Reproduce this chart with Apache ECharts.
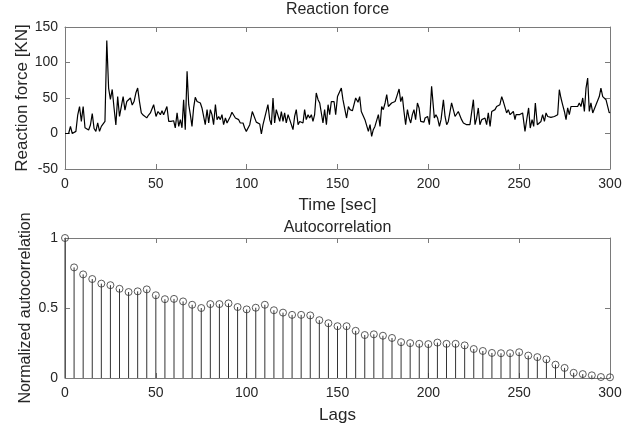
<!DOCTYPE html>
<html><head><meta charset="utf-8">
<script src="https://cdn.jsdelivr.net/npm/echarts@6/dist/echarts.min.js"></script>
<style>html,body{margin:0;padding:0;background:#fff}#c{width:633px;height:425px}</style>
</head><body><div id="c"></div>
<script>
// ---- Reaction force time series (sec, KN) ----
const forceTime = [
 0,1,2,3,4,5,6,7,8,9,10,11,12,13,14,15,16,17,18,19,20,21,22,23,24,25,26,27,28,29,30,31,32,33,34,35,36,37,38,39,40,41,42,43,44,45,46,47,
 48.8,50.1,51.2,52.5,53.4,54.3,55.2,56.1,57.1,58.3,59.8,60.7,61.7,62.6,63.5,64.4,65.3,66.2,67.2,68.1,69,69.9,70.8,71.7,72.7,73.6,74.5,75.4,76.3,77.2,78.2,79.1,80,80.9,81.8,82.8,83.7,84.6,85.5,86.4,87.3,88.3,89.2,90.1,91,91.9,92.8,93.8,94.7,95.6,96.5,
 98.0,98.9,99.8,100.7,101.7,103.1,104.0,105.3,106.2,107.2,108.1,109.0,109.9,111.7,112.7,113.6,114.5,115.4,116.3,117.2,118.2,119.1,120.0,120.9,121.8,122.8,123.7,124.6,125.5,126.4,127.3,128.3,129.2,130.1,131.0,131.9,132.8,133.8,134.7,135.6,136.5,137.4,138.3,139.3,140.2,141.1,142.0,142.9,143.9,144.8,145.7,146.6,
 148.1,149.0,150.0,150.8,152.1,153.0,154.1,155.0,156.0,156.9,158.2,159.1,160.0,161.3,162.2,163.1,164.2,165.1,166.1,167.0,167.9,168.8,169.7,170.6,171.6,172.5,173.4,174.3,175.2,176.2,177.1,178.0,178.9,179.8,180.7,181.7,182.6,183.9,184.8,185.7,186.6,187.5,188.5,189.4,190.3,191.2,192.1,193.0,194.0,194.9,195.8,197.6,
 198.2,199.6,200.6,201.8,203.3,204.2,205.1,206.1,207.0,208.3,209.2,210.1,211.0,211.9,212.8,213.8,214.7,215.6,216.5,217.4,218.3,219.3,220.2,221.1,222.0,222.9,223.9,224.8,225.7,226.6,227.5,228.4,229.4,230.3,231.2,232.1,233.0,234.0,234.9,235.8,236.7,237.6,238.5,239.4,240.4,241.3,242.2,243.1,244.0,245.0,245.9,246.8,247.7,
 248.3,249.2,250.1,251.0,251.9,253.2,254.3,255.2,256.1,257.1,258.0,258.9,260.0,261.1,262.0,262.9,263.9,264.8,265.7,266.6,267.5,268.4,269.4,270.3,271.2,272.1,273.0,273.9,274.9,275.8,276.7,277.6,278.5,279.4,280.4,281.3,282.2,283.1,284.0,285.0,285.9,286.8,287.7,288.6,289.5,290.5,291.4,292.3,293.2,294.1,295.0,296.0,296.9,297.8,299.6,300
];
const forceValue = [
 0,0,0,10,0,0,3,26,38,17,38,8,10,5,12,28,7,3,15,3,10,8,17,131,64,48,62,36,12,52,24,38,52,33,45,43,50,40,45,57,64,45,29,26,26,22,26,29,
 40.6,24,31,26.5,32,26.5,29,38,17,17,18,8,29,10,19.5,8,47.6,5.4,87.6,40.6,26.5,10,36,51,45,43,43,36,33.6,12.4,33.6,14.8,33.6,26.5,12.4,40.6,19.5,24,19.5,26.5,12.4,21.8,14.8,19.5,24,30,27.5,21.8,24,19.5,14.8,
 14.8,7.7,3,3,12.4,31,31,16,18,13.4,-0.7,12.4,14.8,40.6,19.5,12.4,50,14.8,33.6,33.6,17,31,17,29,14.8,26.5,19.5,17,5.4,24,33.6,12.4,17,14.8,14.8,33.6,19.5,26.5,21.8,26.5,17,26.5,57,47.6,43,45,14.8,33.6,12.4,40.6,26.5,45,
 45,26.5,52,50,64,47.6,47.6,21.8,38,33.6,32,33.6,50,44,52,31,29,19.5,21.8,3,12.4,-4,5.4,10,12.4,26.5,10,38,33.6,43,54.7,38,40.6,43,43,45,52,62.7,45,52,31,12.4,33.6,21.8,14.8,26.5,33.6,19.5,43,36,17,16,
 21.8,24,12.4,66.4,21.8,26.5,21.8,10,19.5,47.6,24,12.4,17,19.5,43,40.6,24,21.8,31,29,19.5,14.8,17,12.4,14.8,12.4,14.8,47.6,12.4,21.8,36,12.4,19.5,17,21.8,12.4,29,10,31,33.6,33.6,38,38,40.6,52,45,47.6,29,33.6,26.5,26.5,31,19.5,
 26.5,29,26.5,26.5,29,3,21.8,36,7.7,19.5,10,43,12.4,14.8,17,26.5,17,29,24,26.5,22.8,24,24,24,26.5,61.7,50,40.6,31,19.5,36,26.5,38,40.6,38,40.6,38,43,38,50,31,64,78,31,43,29,31,40.6,38,52,64,52,52,47.6,29,30
];

// ---- Autocorrelation (lags, normalized) ----
const lags = [0,5,10,15,20,25,30,35,40,45,50,55,60,65,70,75,80,85,90,95,100,105,110,115,120,125,130,135,140,145,150,155,160,165,170,175,180,185,190,195,200,205,210,215,220,225,230,235,240,245,250,255,260,265,270,275,280,285,290,295,300];
const acf = [1.0,0.79,0.74,0.707,0.674,0.663,0.637,0.614,0.619,0.633,
 0.591,0.563,0.565,0.547,0.523,0.5,0.528,0.528,0.533,0.507,
 0.49,0.502,0.523,0.484,0.467,0.451,0.451,0.447,0.413,0.391,
 0.37,0.37,0.337,0.307,0.312,0.302,0.286,0.256,0.249,0.244,
 0.242,0.253,0.244,0.244,0.233,0.207,0.193,0.179,0.177,0.177,
 0.184,0.16,0.149,0.133,0.095,0.072,0.037,0.028,0.019,0.007,
 0.005];

// ---- Axis settings ----
const timeTicks = {min: 0, max: 300, interval: 50};
const forceTicks = {min: -50, max: 150, interval: 50};
const acfTicks = {min: 0, max: 1, interval: 0.5};

const FONT = '"Liberation Sans", Arial, sans-serif';
const TXT = '#262626';
const AXC = '#7a7a7a';

function axisBase(grid, pos, ticks, labels, name, nameGap, nameSize) {
  return Object.assign({
    type: 'value', gridIndex: grid, position: pos,
    splitLine: {show: false},
    axisLine: {show: true, onZero: false, lineStyle: {color: AXC, width: 1}},
    axisTick: {show: true, inside: true, length: 5, lineStyle: {color: AXC}},
    axisLabel: {show: labels, color: TXT, fontSize: 14, fontFamily: FONT, margin: (pos === 'left' ? 7 : 8)},
    name: name || '', nameLocation: 'middle', nameGap: nameGap || 0,
    nameMoveOverlap: false,
    nameTextStyle: {color: TXT, fontSize: nameSize || 17, fontFamily: FONT}
  }, ticks);
}

const chart = echarts.init(document.getElementById('c'), null, {renderer: 'canvas'});
chart.setOption({
  animation: false,
  backgroundColor: '#fff',
  title: [
    {text: 'Reaction force', left: 337.5, textAlign: 'center', top: 2, padding: 0,
     textStyle: {color: TXT, fontSize: 16, fontWeight: 'normal', fontFamily: FONT}},
    {text: 'Autocorrelation', left: 337.5, textAlign: 'center', top: 220, padding: 0,
     textStyle: {color: TXT, fontSize: 16, fontWeight: 'normal', fontFamily: FONT}}
  ],
  grid: [
    {left: 65, top: 27, width: 545, height: 142},
    {left: 65, top: 238, width: 545, height: 144}
  ],
  xAxis: [
    axisBase(0, 'bottom', timeTicks, true, 'Time [sec]', 28),
    axisBase(0, 'top', timeTicks, false),
    axisBase(1, 'bottom', timeTicks, true, 'Lags', 29),
    axisBase(1, 'top', timeTicks, false)
  ],
  yAxis: [
    axisBase(0, 'left', forceTicks, true, 'Reaction force [KN]', 34),
    axisBase(0, 'right', forceTicks, false),
    axisBase(1, 'left', acfTicks, true, 'Normalized autocorrelation', 31, 16),
    axisBase(1, 'right', acfTicks, false)
  ],
  series: [
    {
      type: 'line', xAxisIndex: 0, yAxisIndex: 0,
      data: forceTime.map((t, i) => [t, forceValue[i]]),
      showSymbol: false, symbol: 'none',
      lineStyle: {color: '#000', width: 1.2}
    },
    {
      type: 'custom', xAxisIndex: 2, yAxisIndex: 2,
      data: lags.map((l, i) => [l, acf[i]]),
      renderItem: function (params, api) {
        const p0 = api.coord([api.value(0), 0]);
        const p1 = api.coord([api.value(0), api.value(1)]);
        return {type: 'line', shape: {x1: p0[0], y1: p0[1], x2: p1[0], y2: p1[1]},
                style: {stroke: '#333', lineWidth: 1}};
      }
    },
    {
      type: 'scatter', xAxisIndex: 2, yAxisIndex: 2,
      data: lags.map((l, i) => [l, acf[i]]),
      symbol: 'circle', symbolSize: 7,
      itemStyle: {color: 'rgba(255,255,255,0)', borderColor: '#333', borderWidth: 1}
    }
  ]
});
</script>
</body></html>
